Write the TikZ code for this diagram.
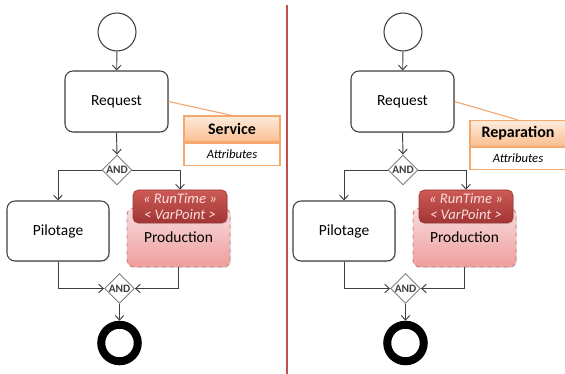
\documentclass[tikz,border=0pt]{standalone}
\usepackage{fontspec}
\setmainfont{Carlito}
\usetikzlibrary{shapes.geometric,arrows.meta,shadows}

\definecolor{flowline}{HTML}{3F3F3F}
\definecolor{gateline}{HTML}{7F7F7F}
\definecolor{classedge}{HTML}{F5A86E}
\definecolor{classtop}{HTML}{FDEBDD}
\definecolor{classbottom}{HTML}{F9BE8F}
\definecolor{assocline}{HTML}{F4A56A}
\definecolor{varpointtop}{HTML}{CD5955}
\definecolor{varpointbottom}{HTML}{A13634}
\definecolor{varpointtext}{HTML}{F8DEDD}
\definecolor{prodtop}{HTML}{F9DCDC}
\definecolor{prodbottom}{HTML}{EE9D9D}
\definecolor{prodedge}{HTML}{D27C7C}
\definecolor{divider}{HTML}{C0504D}

\tikzset{
  softshadow/.style={drop shadow={opacity=0.22, shadow xshift=0.8pt, shadow yshift=-0.8pt}},
  label font/.style={font=\fontsize{11.6}{13}\selectfont},
  startnode/.style={circle, draw=flowline, line width=0.8pt, fill=white,
    minimum size=28.5pt, inner sep=0pt},
  endnode/.style={circle, draw=black, line width=6pt, fill=white,
    minimum size=27.4pt, inner sep=0pt},
  activity/.style={rectangle, rounded corners=6pt, draw=flowline, line width=0.8pt,
    fill=white, softshadow, label font},
  gate/.style={diamond, aspect=1, draw=gateline, line width=0.7pt, fill=white,
    minimum width=22.5pt, minimum height=22.5pt, inner sep=0pt,
    label={[font=\bfseries\fontsize{8.5}{9}\selectfont, text=flowline, inner sep=0pt]center:AND}},
  flow/.style={draw=flowline, line width=0.7pt,
    -{Straight Barb[length=3.5pt,width=6.5pt]}},
  classhead/.style={rectangle, draw=classedge, line width=0.8pt,
    top color=classtop, bottom color=classbottom, softshadow,
    minimum width=72pt, minimum height=19.5pt, inner sep=0pt,
    font=\bfseries\fontsize{12}{14}\selectfont},
  classbody/.style={rectangle, draw=classedge, line width=0.8pt, fill=white,
    minimum width=72pt, minimum height=16.5pt, inner sep=0pt,
    font=\itshape\fontsize{9.5}{11}\selectfont},
  assoc/.style={draw=assocline, line width=0.8pt},
  prodbox/.style={rectangle, rounded corners=5pt, draw=prodedge, dashed, line width=0.7pt,
    top color=prodtop, bottom color=prodbottom, softshadow,
    minimum width=77.25pt, minimum height=44.25pt, label font},
  varpoint/.style={rectangle, rounded corners=4pt, draw=varpointbottom, line width=0.5pt,
    top color=varpointtop, bottom color=varpointbottom, softshadow,
    minimum width=70.5pt, minimum height=24.75pt, inner sep=0pt,
    text=varpointtext, align=center,
    font=\itshape\fontsize{11}{12.75}\selectfont},
}

% One activity flow: #1 horizontal shift, #2 name suffix,
% #3 class name, #4 vertical position of the class header
\newcommand{\flowpanel}[4]{%
  \begin{scope}[xshift=#1]
    \node[startnode] (start#2) at (117,32) {};
    \node[activity, minimum width=77.25pt, minimum height=45.75pt] (req#2) at (116.5,101.5) {Request};
    \node[classhead] (cls#2) at (232,#4) {#3};
    \node[classbody, anchor=north] (attr#2) at (cls#2.south) {Attributes};
    \node[gate] (fork#2) at (117,170) {};
    \node[activity, minimum width=76.5pt, minimum height=45pt] (pil#2) at (58,231) {Pilotage};
    \node[prodbox] (prod#2) at (178.5,237.5) {\raisebox{-1pt}{Production}};
    \node[varpoint] (vp#2) at (180,206.5) {« RunTime »\\[-1pt]< VarPoint >};
    \node[gate] (join#2) at (119.5,288.5) {};
    \node[endnode] (end#2) at (119.5,343) {};

    \draw[assoc] (req#2.east) -- (cls#2.north);
    \draw[flow] (start#2) -- (req#2);
    \draw[flow] (req#2.south) -- (fork#2.north);
    \draw[flow] (fork#2.west) -| (pil#2.north);
    \draw[flow] (fork#2.east) -| (vp#2.north);
    \draw[flow] (pil#2.south) |- (join#2.west);
    \draw[flow] (prod#2.south) |- (join#2.east);
    \draw[flow] (join#2.south) -- (end#2.north);
  \end{scope}}

\begin{document}
\begin{tikzpicture}[x=0.75pt, y=-0.75pt]
  \useasboundingbox (0,0) rectangle (565,374);
  \clip (0,0) rectangle (565,374);
  \fill[white] (0,0) rectangle (565,374);

  \flowpanel{0pt}{L}{Service}{129}
  \flowpanel{214.5pt}{R}{Reparation}{133.5}

  % separator between the two variants
  \draw[divider, line width=2pt] (287,5) -- (287,374);
\end{tikzpicture}
\end{document}
